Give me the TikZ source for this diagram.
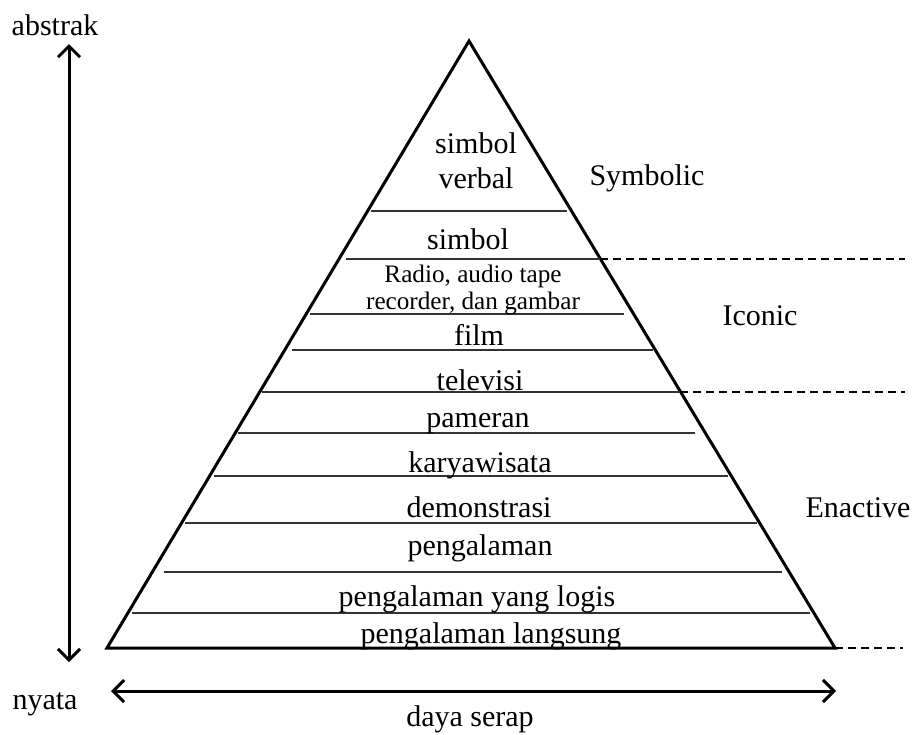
\documentclass[tikz,border=0pt]{standalone}
\usepackage{fontspec}
\setmainfont{Liberation Serif}
\usetikzlibrary{arrows.meta}

\tikzset{>={Straight Barb[length=5.5pt,width=11pt]}}

\begin{document}
\begin{tikzpicture}[x=0.5pt, y=-0.5pt]

	\tikzstyle{level_text} = [anchor=base, inner sep=0pt, font=\fontsize{15}{18}\selectfont]
	\tikzstyle{small_text} = [anchor=base, inner sep=0pt, font=\fontsize{12.6}{14}\selectfont]
	\tikzstyle{level_line} = [line width=0.8pt, black!80]
	\tikzstyle{split_line} = [line width=0.6pt, dash pattern=on 4pt off 2.5pt]

	\useasboundingbox (0,0) rectangle (913,734);

%------------------------------------------------------------
	\coordinate (top) at (469,41);
	\coordinate (bl) at (107,648);
	\coordinate (br) at (835,648);

	\draw[line width=1.5pt, line join=miter] (top) -- (bl) -- (br) -- cycle;

	\foreach \y/\xa/\xb in {211/371/567, 259/346/600, 314/310/624, 350/292/653,
		392/262/680, 433/238/695, 476/214/728, 523/185/757, 572/164/782, 613/132/810}
		\draw[level_line] (\xa,\y) -- (\xb,\y);

%------------------------------------------------------------
	\node[level_text] (verbal1) at (476,153) {simbol};
	\node[level_text] (verbal2) at (476,188) {verbal};
	\node[level_text] (simbol) at (468,249) {simbol};
	\node[small_text] (radio1) at (473,282) {Radio, audio tape};
	\node[small_text] (radio2) at (473,309) {recorder, dan gambar};
	\node[level_text] (film) at (479,345) {film};
	\node[level_text] (televisi) at (480,390) {televisi};
	\node[level_text] (pameran) at (478,427) {pameran};
	\node[level_text] (karya) at (480,472) {karyawisata};
	\node[level_text] (demo) at (479,517) {demonstrasi};
	\node[level_text] (peng) at (480,555) {pengalaman};
	\node[level_text] (logis) at (477,606) {pengalaman yang logis};
	\node[level_text] (langsung) at (491,643) {pengalaman langsung};

%------------------------------------------------------------
	\node[level_text] (symbolic) at (647,185) {Symbolic};
	\node[level_text] (iconic) at (760,325) {Iconic};
	\node[level_text] (enactive) at (858,517) {Enactive};

	\coordinate (d1a) at (600,259);
	\coordinate (d1b) at (905,259);
	\coordinate (d2a) at (680,392);
	\coordinate (d2b) at (905,392);
	\draw[split_line] (d1a) -- (d1b);
	\draw[split_line] (d2a) -- (d2b);
	\draw[split_line] (br) -- (903,648);

%------------------------------------------------------------
	\node[level_text] (abstrak) at (55,35) {abstrak};
	\node[level_text] (nyata) at (45,709) {nyata};
	\node[level_text] (daya) at (470,726) {daya serap};

	\coordinate (up) at (69,44);
	\coordinate (down) at (69,662);
	\coordinate (left) at (111,691);
	\coordinate (right) at (836,691);

	\draw[<->, line width=1.5pt] (down) -- (up);
	\draw[<->, line width=1.5pt] (left) -- (right);

\end{tikzpicture}
\end{document}
